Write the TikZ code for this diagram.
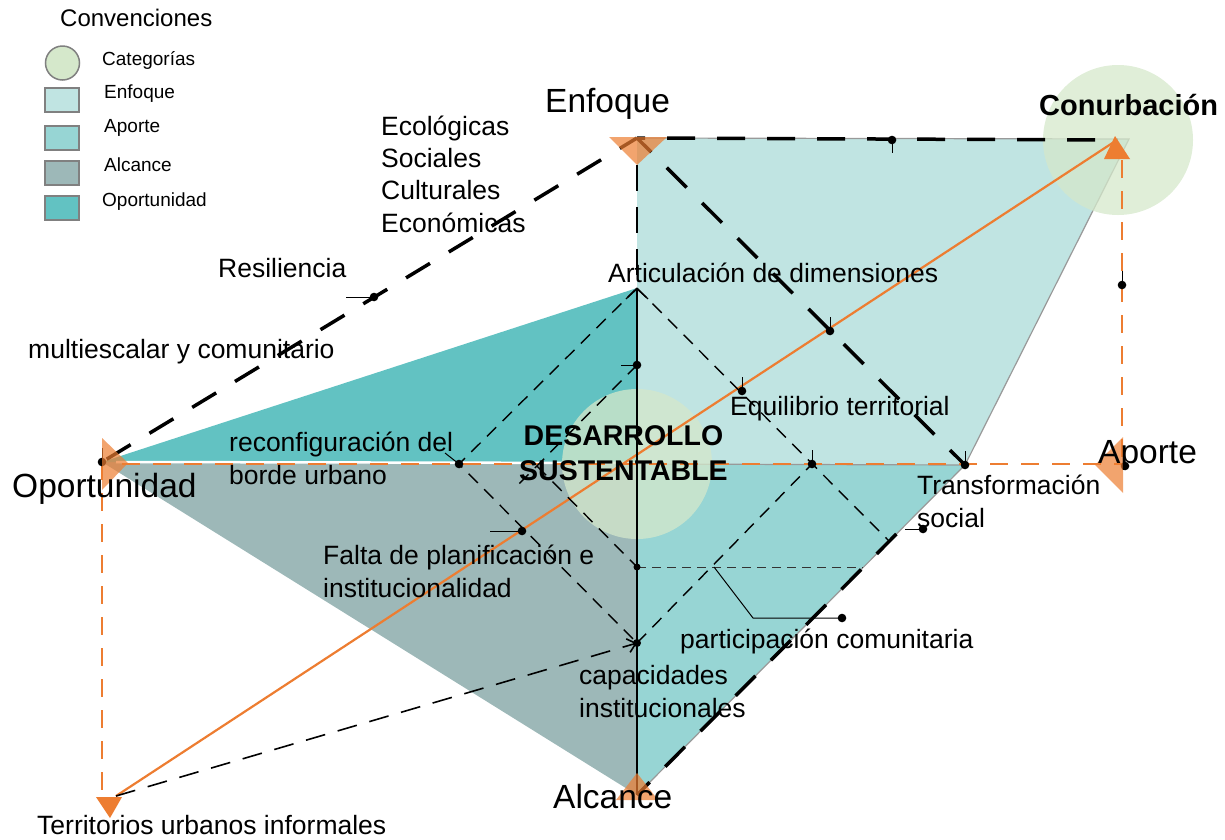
\documentclass[tikz,border=0pt]{standalone}
\usepackage{fontspec}
\setmainfont{Liberation Sans}
\usetikzlibrary{calc, arrows.meta}
\definecolor{enfoque}{HTML}{C0E4E2}
\definecolor{aporte}{HTML}{97D5D4}
\definecolor{alcance}{HTML}{9DB8B8}
\definecolor{oportunidad}{HTML}{62C2C2}
\definecolor{categoria}{HTML}{D5E8CB}
\definecolor{naranja}{HTML}{ED7D31}
\tikzset{every node/.style={align=left, inner sep=0pt}}
\tikzset{bigdash/.style={line width=3.5pt, black, dash pattern=on 28pt off 22pt}}
\tikzset{axisdash/.style={line width=2.8pt, black, dash pattern=on 26pt off 16pt}}
\tikzset{thindash/.style={line width=1.4pt, black, dash pattern=on 13pt off 9pt}}
\tikzset{meddash/.style={line width=1.6pt, black, dash pattern=on 20pt off 13pt}}
\tikzset{finedash/.style={line width=0.9pt, black!80, dash pattern=on 9pt off 6pt}}
\tikzset{orangedash/.style={line width=2pt, naranja, dash pattern=on 18pt off 13pt}}
\tikzset{orangeline/.style={line width=2.2pt, naranja}}
\tikzset{edge/.style={line width=1.2pt, black!40}}
\tikzset{vertexfill/.style={fill=naranja, opacity=.7}}
\tikzset{legendbox/.style={line width=1.5pt, black!50}}
\tikzset{bigtext/.style={font=\fontsize{33.5}{38}\selectfont, anchor=base west}}
\tikzset{midtext/.style={font=\fontsize{26.5}{32.3}\selectfont, anchor=base west}}
\tikzset{legendtext/.style={font=\fontsize{19}{22}\selectfont, anchor=west}}
\tikzset{boldtext/.style={font=\fontsize{28.5}{34.5}\selectfont\bfseries, anchor=base west}}
\newcommand{\dotup}[1]{\fill (#1) circle (4.3); \draw[line width=1pt] (#1) -- ++(0,-14)}
\newcommand{\dotdown}[1]{\fill (#1) circle (4.3); \draw[line width=1pt] (#1) -- ++(0,13)}
\newcommand{\dotleft}[2]{\fill (#1) circle (4.3); \draw[line width=1pt] (#1) -- ++(-#2,0)}
\begin{document}
\begin{tikzpicture}[x=1pt, y=-1pt]
	\useasboundingbox (0,0) rectangle (1225,839);

	% Coordinates
	\coordinate (E) at (637,138);
	\coordinate (C) at (1129,139);
	\coordinate (Cu) at (1117,140);
	\coordinate (Ap) at (1122,464);
	\coordinate (Op) at (102,462);
	\coordinate (Al) at (637,795);
	\coordinate (O) at (637,464);
	\coordinate (Tr) at (965,465);
	\coordinate (Ar) at (637,288);
	\coordinate (Rc) at (459,464);
	\coordinate (Ca) at (637,643);
	\coordinate (Dr) at (812,464);
	\coordinate (Eq) at (742,391);
	\coordinate (T) at (116,796);
	\coordinate (Re) at (374,297);
	\coordinate (Fa) at (522,531);
	\coordinate (Sa) at (637,365);
	\coordinate (Sb) at (637,567);
	\coordinate (Sc) at (537,466);
	\coordinate (So) at (923,529);
	\coordinate (Pc) at (842,618);

	% Regions
	\fill[enfoque] (E) -- (C) -- (Tr) -- (O) -- cycle;
	\fill[aporte] (O) -- (Tr) -- (Al) -- cycle;
	\fill[alcance] (Op) -- (O) -- (Al) -- cycle;
	\fill[oportunidad] (Op) -- (Ar) -- (O) -- cycle;
	\draw[edge] (E) -- (C) -- (Tr) -- (Al);
	\draw[edge] (O) -- (Tr);
	\draw[white, line width=2.5pt] ($(Op)+(14,0)$) -- ($(O)+(0,-1)$);

	% Categories
	\fill[categoria, opacity=.75] (O) circle (75);
	\fill[categoria, opacity=.75] (1118,140) circle (75);

	% Orange axes
	\draw[orangedash] (Op) -- (102,790);
	\draw[orangedash] ($(Op)+(20,2)$) -- (Ap);
	\draw[orangedash] (1122,160) -- (Ap);
	\draw[orangeline] (T) -- (Cu);

	% Dashed
	\draw[bigdash, dash phase=8pt] (E) -- (Op);
	\draw[bigdash, dash phase=8pt] (E) -- (Tr);
	\draw[bigdash, dash phase=-30pt] (E) -- (Cu);
	\draw[bigdash, dash phase=10pt] (Al) -- ($(Al)!.8!(Tr)$);
	\draw[axisdash] (637,165) -- (Al);
	\draw[line width=1.3pt, -{Straight Barb[length=10pt, width=22pt]}] (Al) -- (Ar);
	\draw[thindash] (Ar) -- (Rc) -- (Ca);
	\draw[thindash] (Ca) -- (Dr);
	\draw[thindash] (Ar) -- (889,541);
	\draw[thindash] (Sa) -- (515,488);
	\draw[thindash] (Sc) -- (Sb);
	\draw[finedash] (Sb) -- (863,567);
	\draw[meddash, -{Straight Barb[length=8pt, width=14pt]}] (T) -- (Ca);

	% Markers
	\dotup{Eq};
	\dotup{Dr};
	\dotup{Tr};
	\dotup{Op};
	\dotup{830,331};
	\dotup{1122,285};
	\dotdown{892,140};
	\dotleft{Re}{28};
	\dotleft{Fa}{32};
	\dotleft{Sa}{16};
	\dotleft{So}{18};
	\fill (Rc) circle (4.3);
	\draw[line width=1pt] (Rc) -- ++(-14,-11);
	\fill (Ca) circle (4);
	\fill (Sb) circle (3.5);
	\fill (1125,466) circle (4.3);
	\draw[line width=1pt] (714,567) -- (753,618) -- (Pc);
	\fill (Pc) circle (4.3);

	% Vertices
	\fill[vertexfill] (609,137) -- (667,137) -- (637,165) -- cycle;
	\fill[vertexfill] (102,438) -- (102,490) -- (128,463) -- cycle;
	\fill[vertexfill] (1123,437) -- (1123,493) -- (1095,465) -- cycle;
	\fill[vertexfill] (637,773) -- (658,800) -- (616,800) -- cycle;
	\fill[naranja] (96,797) -- (122,797) -- (110,818) -- cycle;
	\fill[naranja] (1115,136) -- (1130,159) -- (1104,159) -- cycle;

	% Labels (base = last line)
	\node[bigtext] (enf) at (545,112) {Enfoque};
	\node[bigtext] (opo) at (12,497) {Oportunidad};
	\node[bigtext] (apo) at (1098,463) {Aporte};
	\node[bigtext] (alc) at (553,808) {Alcance};
	\node[font=\fontsize{29}{34}\selectfont\bfseries, anchor=base west] (con) at (1039,115) {Conurbación};
	\node[boldtext, align=center] (des) at (519,480) {DESARROLLO\\SUSTENTABLE};
	\node[midtext] (eco) at (381,232) {Ecológicas\\Sociales\\Culturales\\Económicas};
	\node[midtext] (res) at (218,277) {Resiliencia};
	\node[midtext] (mul) at (28,358) {multiescalar y comunitario};
	\node[midtext] (art) at (608,282) {Articulación de dimensiones};
	\node[midtext] (equ) at (730,415) {Equilibrio territorial};
	\node[midtext] (rec) at (229,484) {reconfiguración del\\borde urbano};
	\node[midtext] (tra) at (917,527) {Transformación\\social};
	\node[midtext] (fal) at (323,597) {Falta de planificación e\\institucionalidad};
	\node[midtext] (par) at (680,648) {participación comunitaria};
	\node[midtext] (cap) at (579,717) {capacidades\\institucionales};
	\node[midtext] (ter) at (37,834) {Territorios urbanos informales};

	% Legend
	\node[font=\fontsize{24}{28}\selectfont, anchor=west] (conv) at (60,18) {Convenciones};
	\draw[legendbox, fill=categoria] (62.5,63) circle (17);
	\node[legendtext] (lcat) at (102,60) {Categorías};
	\draw[legendbox, fill=enfoque] (45,88) rectangle (79,112);
	\node[legendtext] (lenf) at (104,94) {Enfoque};
	\draw[legendbox, fill=aporte] (45,126) rectangle (79,150);
	\node[legendtext] (lapo) at (104,128) {Aporte};
	\draw[legendbox, fill=alcance] (45,161) rectangle (79,185);
	\node[legendtext] (lalc) at (104,165) {Alcance};
	\draw[legendbox, fill=oportunidad] (45,196) rectangle (79,220);
	\node[legendtext] (lopo) at (102,202) {Oportunidad};
\end{tikzpicture}
\end{document}
